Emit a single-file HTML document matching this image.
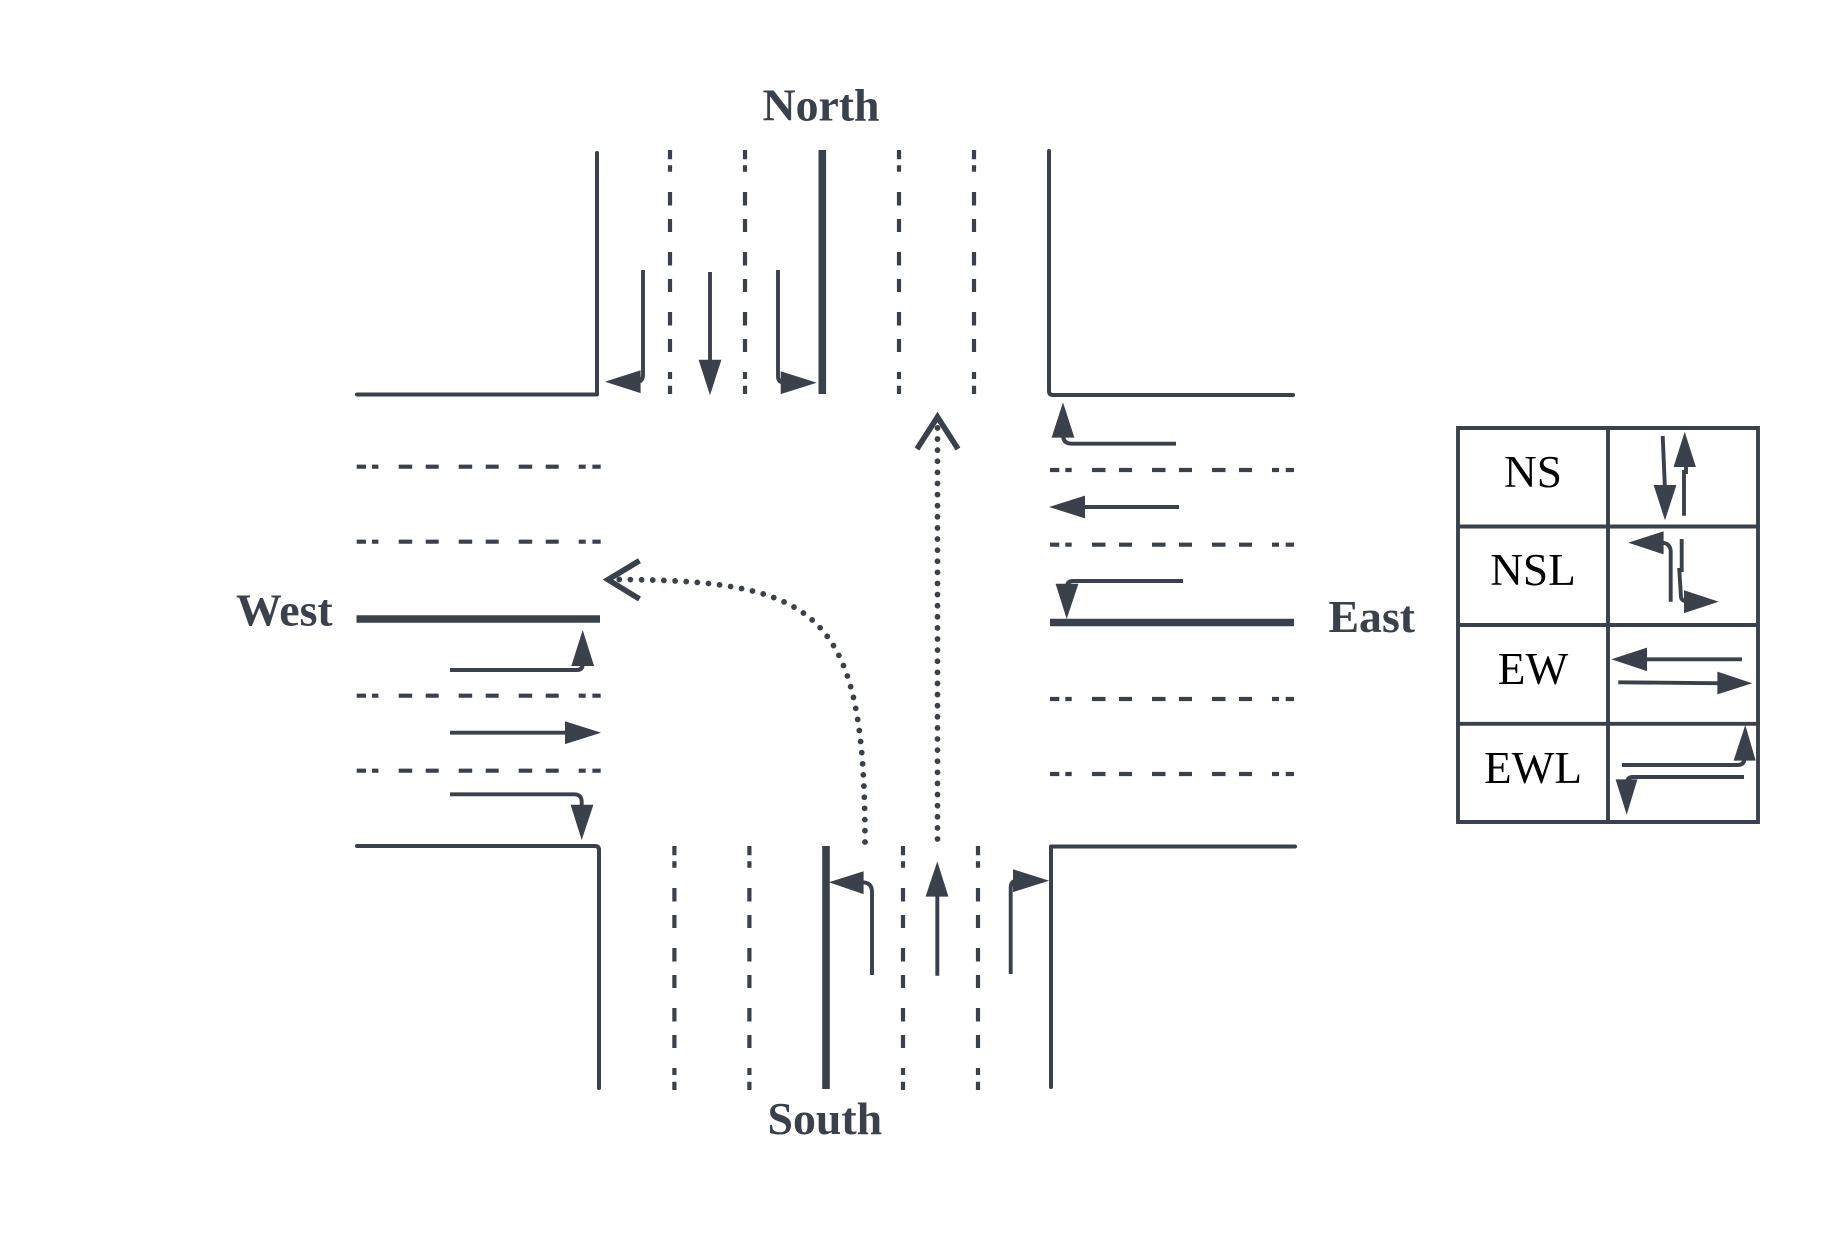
<!DOCTYPE html>
<html><head><meta charset="utf-8"><style>html,body{margin:0;padding:0;background:#fff;width:1834px;height:1238px;overflow:hidden}svg{display:block}</style></head><body>
<svg width="1834" height="1238" viewBox="0 0 1834 1238" xmlns="http://www.w3.org/2000/svg">
<rect width="1834" height="1238" fill="#fff"/>
<g fill="none" stroke="#3a414b" stroke-width="4" stroke-linecap="round" stroke-linejoin="round">
<!-- road edges -->
<path d="M357 394.500H597V153"/>
<path d="M1049 151V391Q1049 395 1053 395H1293"/>
<path d="M357 846H595Q599 846 599 850V1088"/>
<path d="M1051 1087V846.500H1295"/>
</g>
<!-- medians -->
<g fill="none" stroke="#3a414b" stroke-width="7.600">
<path d="M822.300 150V394"/>
<path d="M826 846V1089"/>
<path d="M356.500 619H600"/>
<path d="M1050 622.500H1294"/>
</g>
<g fill="none" stroke="#3a414b" stroke-width="4.200" stroke-dasharray="9.300 6 6.400 20.300 13.500 13.500 13 20 13.500 13.500 13 20 13.500 13.500 13 20 7 6.700 8.300 100">
<path d="M670 150V394M745 150V394M899 150V394M974 150V394"/>
<path d="M674.400 846V1090M749.400 846V1090M903 846V1090M978 846V1090"/>
<path d="M356.700 466.700H601M356.700 541.700H601M356.700 695.700H601M356.700 770.700H601"/>
<path d="M1050 470H1294M1050 544.700H1294M1050 699H1294M1050 774H1294"/>
</g>
<!-- lane arrow shafts -->
<g fill="none" stroke="#3a414b" stroke-width="3.900">
<path d="M643 270V375Q643 382 636 382H630"/>
<path d="M710 272V365"/>
<path d="M778 270V376Q778 382.500 784 382.500H790"/>
<path d="M1176 443.700H1072Q1063 443.700 1063 435"/>
<path d="M1179 507H1080"/>
<path d="M1183 581H1073Q1067 581 1067 587"/>
<path d="M450 670H577Q582.700 670 582.700 664"/>
<path d="M450 732.700H570"/>
<path d="M450 794.300H574Q581.700 794.300 581.700 802V808"/>
<path d="M872 975V892Q872 882.300 862 882.300H858"/>
<path d="M937.300 975.700V892"/>
<path d="M1010.700 974V888Q1010.700 880.700 1017 880.700H1020"/>
</g>
<g fill="#3a414b" stroke="#3a414b" stroke-width="0.600">
<path d="M606 381.700L640.300 370.700V392.700Z"/>
<path d="M710 394.300L699 360H721Z"/>
<path d="M815.700 382.700L781 371.700V393.700Z"/>
<path d="M1063 403.300L1052 437.300H1074Z"/>
<path d="M1050 507L1084.700 496V518Z"/>
<path d="M1066.700 618L1056 584H1078Z"/>
<path d="M582.700 631L571.700 665.700H593.700Z"/>
<path d="M600 732.700L565.300 721.700V743.700Z"/>
<path d="M581.700 839L571 805H593Z"/>
<path d="M829.700 882.300L863.300 871.700V893.700Z"/>
<path d="M937.300 862.300L926 896.300H948Z"/>
<path d="M1048 880.700L1013.300 869.700V891.700Z"/>
</g>
<!-- dotted movement paths -->
<g fill="none" stroke="#3a414b" stroke-width="5.800" stroke-linecap="round">
<path stroke-dasharray="0 11.110" d="M937.500 839V426"/>
<path stroke-dasharray="0 11.170" d="M865 842C865 610 820 579.500 610 579.500"/>
</g>
<g fill="none" stroke="#3a414b" stroke-width="5.600">
<path d="M917 449L937.500 417L958 449"/>
<path d="M639.500 560.700L608 579.700L639.500 599"/>
</g>
<!-- table -->
<g fill="none" stroke="#3a414b" stroke-width="3.900" stroke-linecap="round">
<path d="M1458 428H1758V822H1458Z"/>
<path d="M1608 428V822"/>
<path d="M1458 526.500H1758M1458 625H1758M1458 723.800H1758"/>
</g>
<!-- table arrows -->
<g fill="none" stroke="#3a414b" stroke-width="3.900">
<path d="M1662.700 436L1665 490"/>
<path d="M1684 515.700V472H1686V462"/>
<path d="M1670.700 601.700V552Q1670.700 542.700 1661 542.700H1655"/>
<path d="M1681.700 539V570H1679.300L1681 597Q1681.500 601.700 1690 601.700"/>
<path d="M1742 659.300H1640"/>
<path d="M1618.300 682.300L1725 683.300"/>
<path d="M1622 765H1738Q1744.500 765 1744.500 758V752"/>
<path d="M1744 777H1633Q1627 777 1627 783"/>
</g>
<g fill="#3a414b" stroke="#3a414b" stroke-width="0.600">
<path d="M1665 519.300L1654 485.300H1676Z"/>
<path d="M1684.700 432.700L1674 466.700H1695.500Z"/>
<path d="M1629.300 542.700L1663.300 531.700V554Z"/>
<path d="M1717.700 601.700L1684.300 590.700V612.700Z"/>
<path d="M1612.300 659.300L1646.700 648V670.700Z"/>
<path d="M1751.300 683.300L1717.700 672V694Z"/>
<path d="M1745.300 726L1734 760.300H1755.300Z"/>
<path d="M1626.700 813.700L1616 779.700H1637Z"/>
</g>
<!-- labels -->
<g font-family="'Liberation Serif', serif" font-weight="700" font-size="45.800" fill="#3a414b">
<text x="762.500" y="120.500">North</text>
<text x="236" y="625.500">West</text>
<text x="1328.500" y="632">East</text>
<text x="767.500" y="1134">South</text>
</g>
<g font-family="'Liberation Serif', serif" font-size="45.300" fill="#000" text-anchor="middle">
<text x="1533" y="487">NS</text>
<text x="1533" y="585">NSL</text>
<text x="1533" y="684">EW</text>
<text x="1533" y="783">EWL</text>
</g>
</svg>
</body></html>
